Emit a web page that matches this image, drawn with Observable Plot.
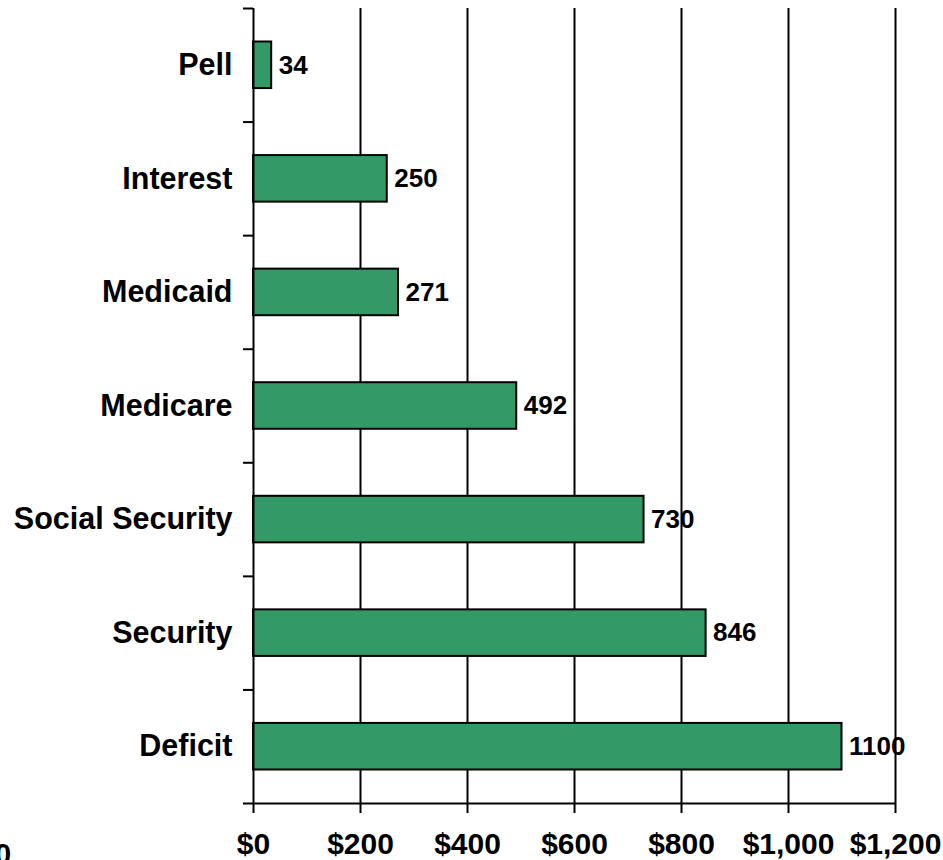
<!DOCTYPE html>
<html>
<head>
<meta charset="utf-8">
<script src="https://cdn.jsdelivr.net/npm/d3@7"></script>
<script src="https://cdn.jsdelivr.net/npm/@observablehq/plot@0.6"></script>
<style>
  html, body { margin: 0; padding: 0; background: #fff; overflow: hidden; }
  #wrap { position: relative; width: 943px; height: 860px; }
  #cut { position: absolute; left: -5px; top: 840px; font: bold 29px "Liberation Sans", Arial, sans-serif; line-height: 29px; color: #000; }
</style>
</head>
<body>
<div id="wrap"><div id="chart"></div><div id="cut">0</div></div>
<script>
const categories = ["Pell", "Interest", "Medicaid", "Medicare", "Social Security", "Security", "Deficit"];
const values = [34, 250, 271, 492, 730, 846, 1100];
const xTicks = [0, 200, 400, 600, 800, 1000, 1200];

const data = categories.map((c, i) => ({category: c, value: values[i], i}));
const pad = 0.295;
const font = '"Liberation Sans", Arial, sans-serif';

const chart = Plot.plot({
  width: 943,
  height: 860,
  marginLeft: 253,
  marginRight: 48,
  marginTop: 8,
  marginBottom: 57,
  style: {fontFamily: font, background: "#fff", color: "#000", overflow: "visible"},
  x: {domain: [0, 1200]},
  y: {domain: [0, categories.length], reverse: true},
  marks: [
    Plot.gridX(xTicks.slice(1), {stroke: "#000", strokeOpacity: 1, strokeWidth: 2}),
    Plot.rectX(data, {
      x1: 0, x2: "value",
      y1: d => d.i + pad, y2: d => d.i + 1 - pad,
      fill: "#339966", stroke: "#000", strokeWidth: 2
    }),
    Plot.text(data, {
      x: "value", y: d => d.i + 0.5, text: d => String(d.value),
      textAnchor: "start", dx: 7, fontSize: 26, fontWeight: "bold", fill: "#000"
    }),
    Plot.ruleX([0], {stroke: "#000", strokeWidth: 2}),
    Plot.ruleY([categories.length], {stroke: "#000", strokeWidth: 2}),
    Plot.axisY(d3.range(categories.length + 1), {
      tickSize: 10, tickFormat: () => "", stroke: "#000", strokeWidth: 2, label: null
    }),
    Plot.axisY(data.map(d => d.i + 0.5), {
      tickSize: 0, tickPadding: 21, label: null,
      tickFormat: (v) => categories[Math.floor(v)],
      fontSize: 30.5, fontWeight: "bold", fill: "#000"
    }),
    Plot.axisX(xTicks, {
      tickSize: 10, tickPadding: 19, label: null,
      tickFormat: d => "$" + d3.format(",")(d),
      fontSize: 30, fontWeight: "bold", stroke: "#000", strokeWidth: 2, fill: "#000"
    })
  ]
});
document.getElementById("chart").appendChild(chart);
</script>
</body>
</html>
